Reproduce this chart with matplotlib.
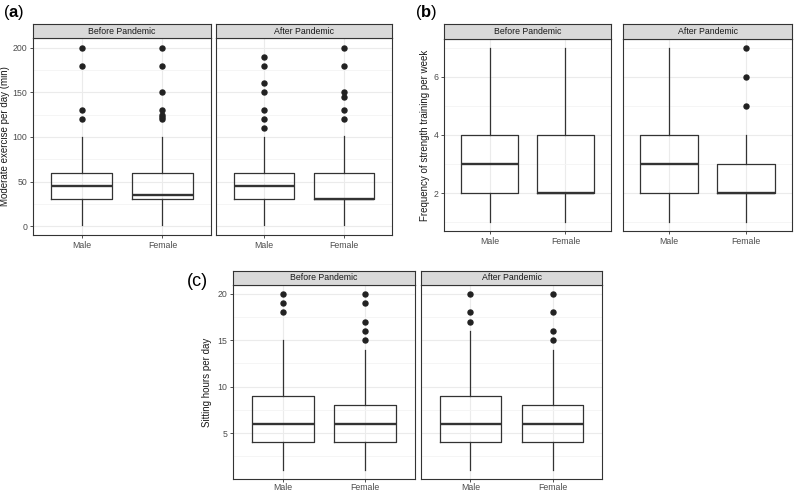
import matplotlib
matplotlib.use("Agg")
from matplotlib import pyplot as plt
from matplotlib.ticker import MultipleLocator

plt.rcParams['font.family'] = ['Liberation Sans', 'DejaVu Sans']
plt.rcParams['mathtext.fontset'] = 'custom'
plt.rcParams['mathtext.bf'] = 'Liberation Sans:bold'

W, H = 800, 493

groups = ["Male", "Female"]
periods = ["Before Pandemic", "After Pandemic"]

# (a) moderate exercise per day (min): [before male, before female, after male, after female]
a_q1 = [30, 30, 30, 30]
a_med = [45, 35, 45, 30]
a_q3 = [60, 60, 60, 60]
a_lo = [1, 1, 1, 1]
a_hi = [100, 100, 100, 101]
a_fliers = [[120, 130, 180, 200],
            [120, 122, 125, 130, 150, 180, 200],
            [110, 120, 130, 150, 160, 180, 190],
            [120, 130, 145, 150, 180, 200]]

# (b) strength training frequency per week
b_q1 = [2, 2, 2, 2]
b_med = [3, 2, 3, 2]
b_q3 = [4, 4, 4, 3]
b_lo = [1, 1, 1, 1]
b_hi = [7, 7, 7, 4]
b_fliers = [[], [], [], [5, 6, 7]]

# (c) sitting hours per day
c_q1 = [4, 4, 4, 4]
c_med = [6, 6, 6, 6]
c_q3 = [9, 8, 9, 8]
c_lo = [1, 1, 1, 1]
c_hi = [15, 14, 16, 14]
c_fliers = [[18, 19, 20], [15, 16, 17, 19, 20], [17, 18, 20], [15, 16, 18, 20]]


def rect(x0, x1, ytop, ybot):
    return [x0 / W, 1 - ybot / H, (x1 - x0) / W, (ybot - ytop) / H]


def facet(fig, x0, x1, ytop, ystrip, ybot, title, q1, med, q3, lo, hi, fl,
          ylim, major, minor, show_y, xpad=1.5):
    ax = fig.add_axes(rect(x0, x1, ystrip, ybot))
    stats = []
    for i in range(2):
        stats.append(dict(q1=q1[i], med=med[i], q3=q3[i], whislo=lo[i],
                          whishi=hi[i], fliers=fl[i]))
    ax.bxp(stats, positions=[1, 2], widths=0.75, showcaps=False,
           boxprops=dict(color="#333333", lw=0.9),
           whiskerprops=dict(color="#333333", lw=0.9),
           medianprops=dict(color="#333333", lw=1.7),
           flierprops=dict(marker="o", markerfacecolor="#222222",
                           markeredgecolor="#222222", markersize=3.6),
           zorder=3)
    ax.set_xlim(0.4, 2.6)
    ax.set_ylim(*ylim)
    ax.yaxis.set_major_locator(MultipleLocator(major))
    ax.yaxis.set_minor_locator(MultipleLocator(minor))
    ax.set_xticks([1, 2])
    ax.set_xticklabels(groups)
    ax.grid(True, which="major", color="#EBEBEB", lw=0.8, zorder=0)
    ax.grid(True, which="minor", axis="y", color="#F4F4F4", lw=0.6, zorder=0)
    ax.set_axisbelow(True)
    ax.tick_params(axis="both", which="major", length=2.5, width=0.6,
                   color="#333333", labelsize=6.3, labelcolor="#4D4D4D", pad=1.5)
    ax.tick_params(axis="x", which="major", pad=xpad)
    ax.tick_params(axis="y", which="minor", length=0)
    if not show_y:
        ax.tick_params(axis="y", which="major", left=False, labelleft=False)
    for s in ax.spines.values():
        s.set_color("#333333")
        s.set_linewidth(0.8)
    st = fig.add_axes(rect(x0, x1, ytop, ystrip))
    st.set_facecolor("#D9D9D9")
    st.set_xticks([])
    st.set_yticks([])
    for s in st.spines.values():
        s.set_color("#333333")
        s.set_linewidth(0.8)
    st.text(0.5, 0.5, title, ha="center", va="center", fontsize=6.3,
            color="#1A1A1A", transform=st.transAxes)
    return ax


fig = plt.figure(figsize=(W / 100, H / 100), dpi=100)

# panel (a)
axa = facet(fig, 33, 211, 24, 38, 235, periods[0], a_q1[:2], a_med[:2], a_q3[:2],
            a_lo[:2], a_hi[:2], a_fliers[:2], (-10, 211), 50, 25, True)
facet(fig, 216, 392, 24, 38, 235, periods[1], a_q1[2:], a_med[2:], a_q3[2:],
      a_lo[2:], a_hi[2:], a_fliers[2:], (-10, 211), 50, 25, False)
axa.set_ylabel("Moderate exercise per day (min)", fontsize=7, color="#1A1A1A")
axa.yaxis.set_label_coords((9.5 - 33) / 178, 0.5)

# panel (b)
axb = facet(fig, 444, 611, 24, 39, 231, periods[0], b_q1[:2], b_med[:2], b_q3[:2],
            b_lo[:2], b_hi[:2], b_fliers[:2], (0.7, 7.3), 2, 1, True)
facet(fig, 623, 792, 24, 39, 231, periods[1], b_q1[2:], b_med[2:], b_q3[2:],
      b_lo[2:], b_hi[2:], b_fliers[2:], (0.7, 7.3), 2, 1, False)
axb.set_ylabel("Frequency of strength training per week", fontsize=7, color="#1A1A1A")
axb.yaxis.set_label_coords((430 - 444) / 167, 0.5)

# panel (c)
axc = facet(fig, 233, 415, 271, 285, 479, periods[0], c_q1[:2], c_med[:2], c_q3[:2],
            c_lo[:2], c_hi[:2], c_fliers[:2], (0.05, 20.95), 5, 2.5, True, xpad=0.3)
facet(fig, 421, 602, 271, 285, 479, periods[1], c_q1[2:], c_med[2:], c_q3[2:],
      c_lo[2:], c_hi[2:], c_fliers[2:], (0.05, 20.95), 5, 2.5, False, xpad=0.3)
axc.set_ylabel("Sitting hours per day", fontsize=7, color="#1A1A1A")
axc.yaxis.set_label_coords((211.5 - 233) / 182, 0.5)

fig.text(3 / W, 1 - 13 / H, r"($\mathbf{a}$)", fontsize=12, va="center", ha="left")
fig.text(415 / W, 1 - 13 / H, r"($\mathbf{b}$)", fontsize=12, va="center", ha="left")
fig.text(187 / W, 1 - 281 / H, "(c)", fontsize=13, va="center", ha="left")

fig.savefig("out.png", dpi=100)
